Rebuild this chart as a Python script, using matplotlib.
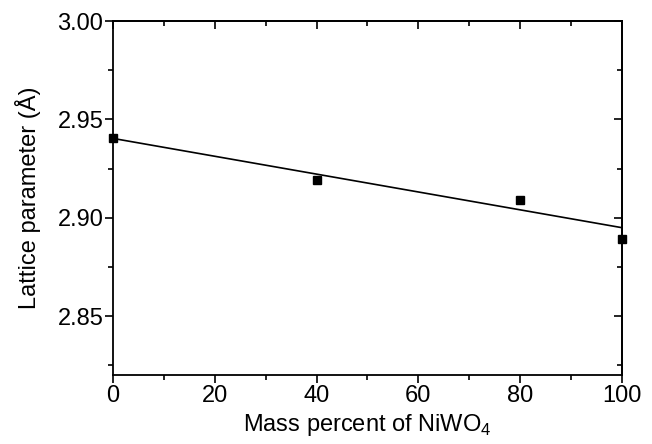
import matplotlib.pyplot as plt
from matplotlib.ticker import MultipleLocator

plt.rcParams['font.family'] = ['Liberation Sans', 'DejaVu Sans']
plt.rcParams['mathtext.fontset'] = 'custom'
plt.rcParams['mathtext.rm'] = 'Liberation Sans'

# measured points
mass_pct = [0, 40, 80, 100]
lattice = [2.9403, 2.9194, 2.9088, 2.8893]

# linear fit line as drawn
fit_x = [0, 100]
fit_y = [2.9403, 2.8949]

fig = plt.figure(figsize=(6.52, 4.44), dpi=100)
ax = fig.add_axes([0.1733, 0.1554, 0.7807, 0.7973])

ax.plot(fit_x, fit_y, color='black', lw=1.2, zorder=2)
ax.plot(mass_pct, lattice, 's', color='black', ms=6, clip_on=False, zorder=3)

ax.set_xlim(0, 100)
ax.set_ylim(2.82, 3.00)
ax.xaxis.set_major_locator(MultipleLocator(20))
ax.xaxis.set_minor_locator(MultipleLocator(10))
ax.yaxis.set_major_locator(MultipleLocator(0.05))
ax.yaxis.set_minor_locator(MultipleLocator(0.025))
ax.yaxis.set_major_formatter(plt.FormatStrFormatter('%.2f'))

for s in ax.spines.values():
    s.set_linewidth(1.3)

ax.tick_params(which='both', direction='out', width=1.2, labelsize=17, pad=1)
ax.tick_params(which='major', length=6)
ax.tick_params(which='minor', length=3.5)

# mirrored ticks pointing inward on top and right
top = ax.secondary_xaxis('top')
top.xaxis.set_major_locator(MultipleLocator(20))
top.xaxis.set_minor_locator(MultipleLocator(10))
top.tick_params(which='both', direction='in', width=1.2, labeltop=False)
top.tick_params(which='major', length=6)
top.tick_params(which='minor', length=3.5)
right = ax.secondary_yaxis('right')
right.yaxis.set_major_locator(MultipleLocator(0.05))
right.yaxis.set_minor_locator(MultipleLocator(0.025))
right.tick_params(which='both', direction='in', width=1.2, labelright=False)
right.tick_params(which='major', length=6)
right.tick_params(which='minor', length=3.5)
for sp in list(top.spines.values()) + list(right.spines.values()):
    sp.set_linewidth(1.3)

ax.set_xlabel('Mass percent of NiWO$_4$', fontsize=17, labelpad=4)
ax.set_ylabel('Lattice parameter (Å)', fontsize=17, labelpad=12)

fig.savefig('out.png', dpi=100)
